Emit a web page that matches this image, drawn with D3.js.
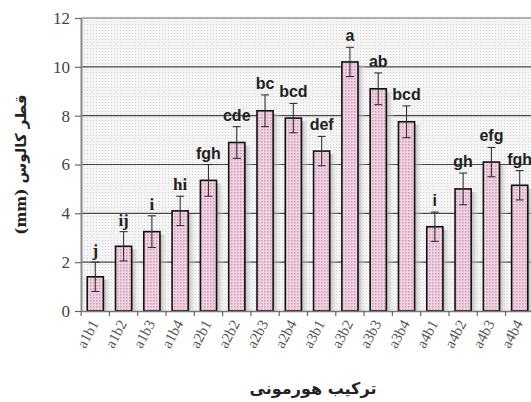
<!DOCTYPE html>
<html>
<head>
<meta charset="utf-8">
<script src="https://cdn.jsdelivr.net/npm/d3@7"></script>
<style>
  body { margin: 0; background: #fff; }
  svg { display: block; }
</style>
</head>
<body>
<div id="chart"></div>
<script>
const WIDTH = 531;
const HEIGHT = 402;
const MARGIN = {top: 18, right: -3, bottom: 91, left: 81};

const categories = ["a1b1", "a1b2", "a1b3", "a1b4", "a2b1", "a2b2", "a2b3", "a2b4",
                    "a3b1", "a3b2", "a3b3", "a3b4", "a4b1", "a4b2", "a4b3", "a4b4"];
const means = [1.4, 2.65, 3.25, 4.1, 5.35, 6.9, 8.2, 7.9, 6.55, 10.2, 9.1, 7.75, 3.45, 5.0, 6.1, 5.15];
const errors = [0.6, 0.6, 0.65, 0.6, 0.65, 0.65, 0.65, 0.6, 0.6, 0.6, 0.65, 0.65, 0.6, 0.65, 0.6, 0.6];
const letters = ["j", "ij", "i", "hi", "fgh", "cde", "bc", "bcd", "def", "a", "ab", "bcd", "i", "gh", "efg", "fgh"];
const yTicks = [0, 2, 4, 6, 8, 10, 12];

const svg = d3.select("#chart").append("svg")
    .attr("width", WIDTH)
    .attr("height", HEIGHT);

const defs = svg.append("defs");

// dotted plot background
const bgPat = defs.append("pattern")
    .attr("id", "bgdots")
    .attr("width", 3).attr("height", 3)
    .attr("patternUnits", "userSpaceOnUse");
bgPat.append("rect").attr("width", 3).attr("height", 3).attr("fill", "#f5f5f5");
bgPat.append("rect").attr("width", 1).attr("height", 1).attr("fill", "#d4d4d4");

// dotted pink bar fill
const barPat = defs.append("pattern")
    .attr("id", "bardots")
    .attr("width", 3).attr("height", 3)
    .attr("patternUnits", "userSpaceOnUse");
barPat.append("rect").attr("width", 3).attr("height", 3).attr("fill", "#f3d3e2");
barPat.append("rect").attr("width", 1.5).attr("height", 1.5).attr("fill", "#c89db2");

const shade = defs.append("linearGradient").attr("id", "shade");
shade.append("stop").attr("offset", "0%").attr("stop-color", "#9a9a9a").attr("stop-opacity", 0.75);
shade.append("stop").attr("offset", "100%").attr("stop-color", "#ffffff").attr("stop-opacity", 0);

const x = d3.scaleBand()
    .domain(categories)
    .range([MARGIN.left, WIDTH - MARGIN.right])
    .paddingInner(0.43)
    .paddingOuter(0.22);

const y = d3.scaleLinear()
    .domain([0, 12])
    .range([HEIGHT - MARGIN.bottom, MARGIN.top]);

// plot area background
svg.append("rect")
    .attr("x", MARGIN.left)
    .attr("y", y(12))
    .attr("width", WIDTH - MARGIN.right - MARGIN.left)
    .attr("height", y(0) - y(12))
    .attr("fill", "url(#bgdots)");

// gridlines
svg.append("g")
    .selectAll("line")
    .data(yTicks.filter(d => d > 0))
    .enter()
    .append("line")
    .attr("x1", MARGIN.left)
    .attr("x2", WIDTH - MARGIN.right)
    .attr("y1", d => y(d))
    .attr("y2", d => y(d))
    .attr("stroke", d => d === 12 ? "#999" : "#4a4a4a")
    .attr("stroke-width", d => d === 12 ? 1.5 : 1.2);

// shadows right of the bars
svg.append("g")
    .selectAll("rect")
    .data(categories)
    .enter()
    .append("rect")
    .attr("x", d => x(d) + x.bandwidth())
    .attr("y", (d, i) => y(means[i]) + 3)
    .attr("width", 9)
    .attr("height", (d, i) => y(0) - y(means[i]) - 3)
    .attr("fill", "url(#shade)");

// bars
svg.append("g")
    .selectAll("rect")
    .data(categories)
    .enter()
    .append("rect")
    .attr("x", d => x(d))
    .attr("y", (d, i) => y(means[i]))
    .attr("width", x.bandwidth())
    .attr("height", (d, i) => y(0) - y(means[i]))
    .attr("fill", "url(#bardots)")
    .attr("stroke", "#111")
    .attr("stroke-width", 1.6);

// error bars
const capW = 4;
const eb = svg.append("g")
    .attr("stroke", "#333")
    .attr("stroke-width", 1.1);
categories.forEach((c, i) => {
  const cx = x(c) + x.bandwidth() / 2;
  const top = y(means[i] + errors[i]);
  const bot = y(means[i] - errors[i]);
  eb.append("line").attr("x1", cx).attr("x2", cx).attr("y1", top).attr("y2", bot);
  eb.append("line").attr("x1", cx - capW).attr("x2", cx + capW).attr("y1", top).attr("y2", top);
  eb.append("line").attr("x1", cx - capW).attr("x2", cx + capW).attr("y1", bot).attr("y2", bot);
});

// significance letters
svg.append("g")
    .selectAll("text")
    .data(categories)
    .enter()
    .append("text")
    .attr("x", d => x(d) + x.bandwidth() / 2)
    .attr("y", (d, i) => y(means[i] + errors[i]) - 6)
    .attr("text-anchor", "middle")
    .attr("font-family", (d, i) => i < 4 ? "Liberation Serif, serif" : "Liberation Sans, Arial, sans-serif")
    .attr("font-weight", "bold")
    .attr("font-size", (d, i) => i < 4 ? "17px" : "16px")
    .attr("fill", "#222")
    .text((d, i) => letters[i]);

// y axis
const yAxis = d3.axisLeft(y).tickValues(yTicks).tickSize(6).tickSizeOuter(0);
const gy = svg.append("g")
    .attr("transform", "translate(" + MARGIN.left + ",0)")
    .call(yAxis);
gy.select(".domain").attr("stroke", "#8a8a8a").attr("stroke-width", 2);
gy.selectAll(".tick line").attr("stroke", "#666").attr("stroke-width", 1.2);
gy.selectAll(".tick text")
    .attr("x", -11)
    .attr("font-family", "Liberation Serif, serif")
    .attr("font-size", "17px")
    .attr("fill", "#444");

// x axis
const xAxis = d3.axisBottom(x).tickSize(0).tickSizeOuter(0);
const gx = svg.append("g")
    .attr("transform", "translate(0," + y(0) + ")")
    .call(xAxis);
gx.select(".domain").attr("stroke", "#777").attr("stroke-width", 1.5);
gx.selectAll(".tick text")
    .attr("font-family", "Liberation Serif, serif")
    .attr("font-size", "15px")
    .attr("fill", "#555")
    .attr("text-anchor", "end")
    .attr("transform", "translate(-1,10) rotate(-62)")
    .attr("dy", "0.35em")
    .attr("y", 0)
    .attr("x", 0);
// tick marks between categories
const step = x.step();
const firstEdge = x(categories[0]) - (x.paddingInner() * step) / 2;
svg.append("g")
    .selectAll("line")
    .data(d3.range(categories.length + 1))
    .enter()
    .append("line")
    .attr("x1", i => firstEdge + i * step)
    .attr("x2", i => firstEdge + i * step)
    .attr("y1", y(0))
    .attr("y2", y(0) + 5)
    .attr("stroke", "#666")
    .attr("stroke-width", 1.2);

// axis titles
svg.append("text")
    .attr("transform", "translate(26," + ((y(0) + y(12)) / 2) + ") rotate(-90)")
    .attr("text-anchor", "middle")
    .attr("direction", "rtl")
    .attr("font-family", "DejaVu Serif, DejaVu Sans, serif")
    .attr("font-weight", "bold")
    .attr("font-size", "15px")
    .attr("fill", "#222")
    .text("قطر کالوس (mm)");

svg.append("text")
    .attr("x", 313)
    .attr("y", 394)
    .attr("text-anchor", "middle")
    .attr("direction", "rtl")
    .attr("font-family", "DejaVu Sans, sans-serif")
    .attr("font-weight", "bold")
    .attr("font-size", "16px")
    .attr("fill", "#222")
    .text("ترکیب هورمونی");
</script>
</body>
</html>
